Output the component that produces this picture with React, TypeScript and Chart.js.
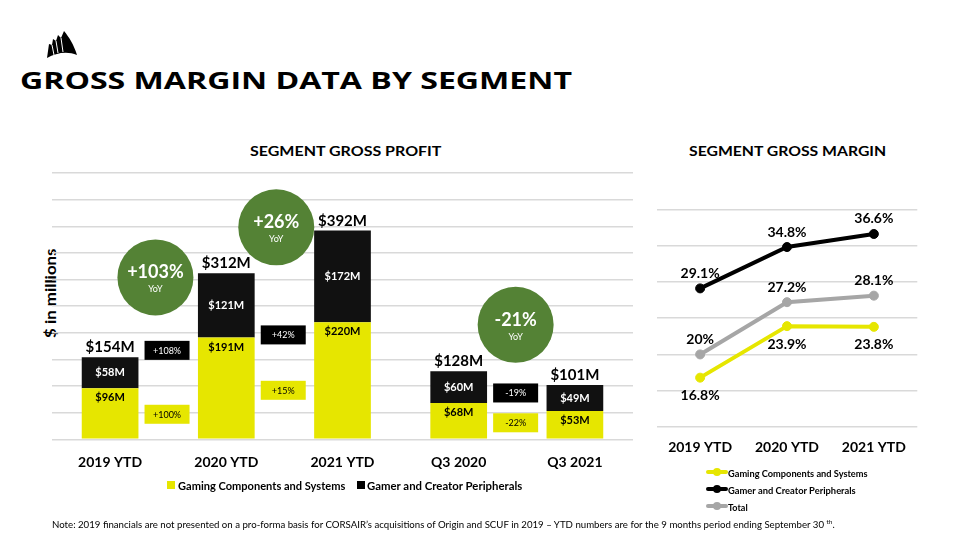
import React, { useEffect, useLayoutEffect, useRef } from "react";
import { Chart, registerables } from "chart.js";

Chart.register(...registerables);

// ---------- DATA ----------
const barCategories = ["2019 YTD", "2020 YTD", "2021 YTD", "Q3 2020", "Q3 2021"];
const gamingProfit = [96, 191, 220, 68, 53];
const peripheralsProfit = [58, 121, 172, 60, 49];
const totalProfit = [154, 312, 392, 128, 101];

// growth call-outs: x in category units, y in $M units
const yoyCircles = [
  { label: "+103%", x: 0.39, y: 304 },
  { label: "+26%", x: 1.43, y: 398 },
  { label: "-21%", x: 3.49, y: 215 },
];
const peripheralsGrowth = [
  { label: "+108%", x: 0.49, y: 167 },
  { label: "+42%", x: 1.49, y: 196 },
  { label: "-19%", x: 3.49, y: 87 },
];
const gamingGrowth = [
  { label: "+100%", x: 0.49, y: 47 },
  { label: "+15%", x: 1.49, y: 92 },
  { label: "-22%", x: 3.49, y: 31 },
];

const marginCategories = ["2019 YTD", "2020 YTD", "2021 YTD"];
const gamingMargin = [16.8, 23.9, 23.8];
const peripheralsMargin = [29.1, 34.8, 36.6];
const totalMargin = [20, 27.2, 28.1];

const YELLOW = "#E6E600";
const BLACK = "#111111";
const GRAY = "#A6A6A6";
const GREEN = "#548235";
const GRID = "#D9D9D9";
const FONT = "Lato, 'Open Sans', sans-serif";

const barLabelPlugin = {
  id: "barLabels",
  afterDatasetsDraw(chart: any) {
    const ctx = chart.ctx;
    const xs = chart.scales.x;
    const ys = chart.scales.y;
    const m0 = chart.getDatasetMeta(0).data;
    const m1 = chart.getDatasetMeta(1).data;
    ctx.save();
    ctx.textAlign = "center";
    for (let i = 0; i < barCategories.length; i++) {
      const yb = m0[i];
      const bb = m1[i];
      ctx.font = `bold 11px ${FONT}`;
      ctx.textBaseline = "middle";
      ctx.fillStyle = "#000";
      ctx.fillText(`$${gamingProfit[i]}M`, yb.x, yb.y + 9.5);
      ctx.fillStyle = "#fff";
      ctx.fillText(`$${peripheralsProfit[i]}M`, bb.x, (bb.y + bb.base) / 2);
      ctx.font = `bold 15px ${FONT}`;
      ctx.fillStyle = "#000";
      ctx.textBaseline = "alphabetic";
      ctx.fillText(`$${totalProfit[i]}M`, bb.x, bb.y - 5);
    }
    const box = (items: any[], fill: string, color: string) => {
      items.forEach((it) => {
        const cx = xs.getPixelForValue(it.x);
        const cy = ys.getPixelForValue(it.y);
        ctx.fillStyle = fill;
        ctx.fillRect(cx - 22.5, cy - 9.5, 45, 19);
        ctx.fillStyle = color;
        ctx.font = `9px ${FONT}`;
        ctx.textBaseline = "middle";
        ctx.fillText(it.label, cx, cy + 0.5);
      });
    };
    box(peripheralsGrowth, "#000", "#fff");
    box(gamingGrowth, YELLOW, "#000");
    yoyCircles.forEach((c) => {
      const cx = xs.getPixelForValue(c.x);
      const cy = ys.getPixelForValue(c.y);
      ctx.beginPath();
      ctx.arc(cx, cy, 38, 0, Math.PI * 2);
      ctx.fillStyle = GREEN;
      ctx.fill();
      ctx.fillStyle = "#fff";
      ctx.textBaseline = "middle";
      ctx.font = `bold 18px ${FONT}`;
      ctx.fillText(c.label, cx, cy - 5);
      ctx.font = `9px ${FONT}`;
      ctx.fillText("YoY", cx, cy + 12);
    });
    ctx.restore();
  },
};

const lineLabelPlugin = {
  id: "lineLabels",
  afterDatasetsDraw(chart: any) {
    const ctx = chart.ctx;
    ctx.save();
    ctx.textAlign = "center";
    ctx.textBaseline = "middle";
    ctx.font = `bold 14px ${FONT}`;
    ctx.fillStyle = "#000";
    const offsets = [18, -15, -15];
    const series = [gamingMargin, peripheralsMargin, totalMargin];
    series.forEach((vals, d) => {
      const pts = chart.getDatasetMeta(d).data;
      vals.forEach((v, i) => {
        ctx.fillText(`${v}%`, pts[i].x, pts[i].y + offsets[d]);
      });
    });
    ctx.restore();
  },
};

function BarChart() {
  const ref = useRef<HTMLCanvasElement>(null);
  useEffect(() => {
    const chart = new Chart(ref.current!, {
      type: "bar",
      data: {
        labels: barCategories,
        datasets: [
          { label: "Gaming Components and Systems", data: gamingProfit, backgroundColor: YELLOW },
          { label: "Gamer and Creator Peripherals", data: peripheralsProfit, backgroundColor: BLACK },
        ],
      },
      options: {
        responsive: false,
        animation: false,
        layout: { padding: { left: 52, right: 7, top: 173, bottom: 60.7 } },
        datasets: { bar: { categoryPercentage: 1, barPercentage: 0.488 } },
        plugins: { legend: { display: false }, tooltip: { enabled: false } },
        scales: {
          x: {
            stacked: true,
            grid: { display: false },
            border: { display: false },
            ticks: { color: "#000", font: { family: FONT, size: 14, weight: "bold" }, padding: 7 },
            afterFit: (s: any) => { s.height = 40; },
          },
          y: {
            stacked: true,
            min: 0,
            max: 500,
            ticks: { display: false, stepSize: 50 },
            grid: { color: GRID, lineWidth: 1.5, drawTicks: false },
            border: { display: false },
            afterFit: (s: any) => { s.width = 0; },
          },
        },
      },
      plugins: [barLabelPlugin],
    } as any);
    return () => chart.destroy();
  }, []);
  return (
    <canvas ref={ref} width={640} height={540}
      style={{ position: "absolute", left: 0, top: 0, width: 640, height: 540 }} />
  );
}

function LineChart() {
  const ref = useRef<HTMLCanvasElement>(null);
  useEffect(() => {
    const mk = (label: string, data: number[], color: string) => ({
      label, data, borderColor: color, backgroundColor: color,
      borderWidth: 4, pointRadius: 4.5, pointBorderWidth: 1, pointBorderColor: color,
    });
    const chart = new Chart(ref.current!, {
      type: "line",
      data: {
        labels: marginCategories,
        datasets: [
          mk("Gaming Components and Systems", gamingMargin, YELLOW),
          mk("Gamer and Creator Peripherals", peripheralsMargin, "#000"),
          mk("Total", totalMargin, GRAY),
        ],
      },
      options: {
        responsive: false,
        animation: false,
        layout: { padding: { left: 16.7, right: 42.7, top: 209.3, bottom: 73 } },
        plugins: { legend: { display: false }, tooltip: { enabled: false } },
        scales: {
          x: {
            offset: true,
            grid: { display: false },
            border: { display: false },
            ticks: { color: "#000", font: { family: FONT, size: 14, weight: "bold" }, padding: 4.5 },
            afterFit: (s: any) => { s.height = 40; },
          },
          y: {
            min: 10,
            max: 40,
            ticks: { display: false, stepSize: 5 },
            grid: { color: GRID, lineWidth: 1.5, drawTicks: false },
            border: { display: false },
            afterFit: (s: any) => { s.width = 0; },
          },
        },
      },
      plugins: [lineLabelPlugin],
    } as any);
    return () => chart.destroy();
  }, []);
  return (
    <canvas ref={ref} width={320} height={540}
      style={{ position: "absolute", left: 640, top: 0, width: 320, height: 540 }} />
  );
}

// Text stretched horizontally to a given width
function FitText({ left, top, width, size, weight = 400, lh, family = FONT, children, origin = "left center", align = "left", outerStyle = {} }: any) {
  const span = useRef<HTMLSpanElement>(null);
  useLayoutEffect(() => {
    const el = span.current!;
    const w = el.offsetWidth;
    if (w > 0) el.style.transform = `scaleX(${width / w})`;
  }, [width]);
  return (
    <div style={{ position: "absolute", left, top, width, height: lh, lineHeight: `${lh}px`, textAlign: align, whiteSpace: "nowrap", ...outerStyle }}>
      <span ref={span} style={{ display: "inline-block", fontFamily: family, fontSize: size, fontWeight: weight, color: "#000", transformOrigin: origin }}>{children}</span>
    </div>
  );
}

function LineLegendItem({ color, label, cy, width }: { color: string; label: string; cy: number; width: number }) {
  return (
    <>
      <div style={{ position: "absolute", left: 706, top: cy - 2, width: 22, height: 4, background: color, borderRadius: 2 }} />
      <div style={{ position: "absolute", left: 713, top: cy - 4, width: 8, height: 8, background: color, borderRadius: 4 }} />
      <FitText left={728} top={cy - 7} width={width} size={9.5} weight={700} lh={14}>{label}</FitText>
    </>
  );
}

export default function App() {
  return (
    <div style={{ position: "absolute", left: 0, top: 0, width: 960, height: 540, background: "#fff", overflow: "hidden" }}>
      <svg style={{ position: "absolute", left: 44, top: 28 }} width={36} height={32} viewBox="0 0 36 32">
        <path d="M3 30 L5 16 L8 17 L9 11 L12 13 L14 7 L17 10 L20 3 C25 9 30 17 33 27 C23 23 12 25 3 30 Z" fill="#000" />
        <path d="M8 17 L10 27 M12 13 L14 25 M17 10 L19 24" stroke="#fff" strokeWidth={1} />
      </svg>
      <FitText left={20} top={65} width={552} size={24} weight={700} lh={30} family="'Open Sans', sans-serif">GROSS MARGIN DATA BY SEGMENT</FitText>
      <FitText left={250} top={140.6} width={192} size={14} weight={700} lh={20}>SEGMENT GROSS PROFIT</FitText>
      <FitText left={689} top={140.6} width={197} size={14} weight={700} lh={20}>SEGMENT GROSS MARGIN</FitText>
      <div style={{ position: "absolute", left: 5, top: 283, width: 90, height: 20, transform: "rotate(-90deg)", transformOrigin: "45px 10px" }}>
        <FitText left={0} top={0} width={90} size={15} weight={700} lh={20}>$ in millions</FitText>
      </div>
      <BarChart />
      <LineChart />
      <div style={{ position: "absolute", left: 167, top: 481, width: 8, height: 8, background: YELLOW }} />
      <FitText left={178} top={478} width={167} size={11} weight={700} lh={14}>Gaming Components and Systems</FitText>
      <div style={{ position: "absolute", left: 357, top: 481, width: 8, height: 8, background: "#000" }} />
      <FitText left={367} top={478} width={155} size={11} weight={700} lh={14}>Gamer and Creator Peripherals</FitText>
      <LineLegendItem color={YELLOW} label="Gaming Components and Systems" cy={471.7} width={140} />
      <LineLegendItem color="#000" label="Gamer and Creator Peripherals" cy={488.7} width={128} />
      <LineLegendItem color={GRAY} label="Total" cy={505.7} width={20} />
      <FitText left={52} top={515} width={783} size={9} lh={14}>
        Note: 2019 financials are not presented on a pro-forma basis for CORSAIR’s acquisitions of Origin and SCUF in 2019 – YTD numbers are for the 9 months period ending September 30 <sup style={{ fontSize: 6 }}>th</sup>.
      </FitText>
    </div>
  );
}
